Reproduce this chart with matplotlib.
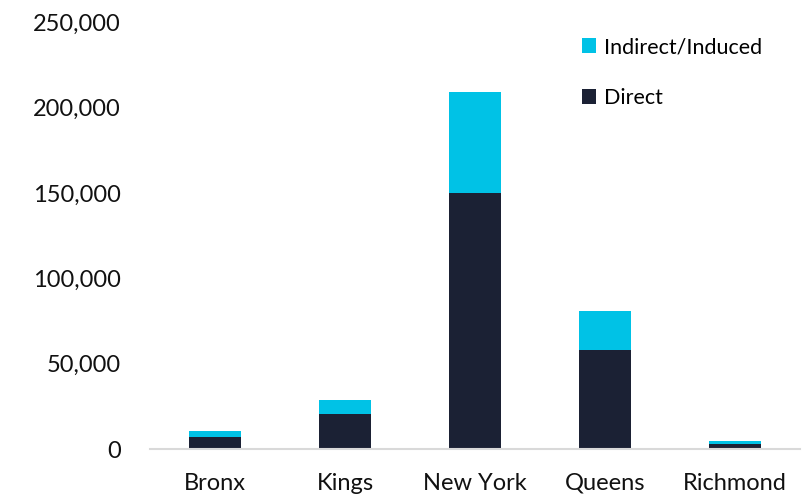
import numpy as np
import matplotlib.pyplot as plt
from matplotlib.ticker import FuncFormatter

plt.rcParams['font.family'] = ['Lato', 'DejaVu Sans']

boroughs = ['Bronx', 'Kings', 'New York', 'Queens', 'Richmond']
direct = [7400, 20500, 150100, 58100, 3300]
indirect = [3300, 8300, 59100, 22800, 1400]

c_direct = '#1b2134'
c_indirect = '#00c2e6'

fig = plt.figure(figsize=(8.03, 4.96), dpi=100)
ax = fig.add_axes([150/803, 1 - 449.3/496, 650/803, (449.3 - 22)/496])

x = np.arange(len(boroughs))
b1 = ax.bar(x, direct, width=0.4, color=c_direct, label='Direct')
b2 = ax.bar(x, indirect, width=0.4, bottom=direct, color=c_indirect, label='Indirect/Induced')

ax.set_xlim(-0.5, 4.5)
ax.set_ylim(0, 250000)
ax.set_yticks(np.arange(0, 250001, 50000))
ax.yaxis.set_major_formatter(FuncFormatter(lambda v, p: f'{int(v):,}'))
ax.set_xticks(x)
ax.set_xticklabels(boroughs)
ax.tick_params(axis='y', length=0, pad=21, labelsize=17, colors='#111111')
ax.tick_params(axis='x', length=0, pad=17, labelsize=17, colors='#111111')

for s in ['top', 'right', 'left']:
    ax.spines[s].set_visible(False)
ax.spines['bottom'].set_color('#d9d9d9')
ax.spines['bottom'].set_linewidth(1.5)

leg = fig.legend(handles=[b2, b1], labels=['Indirect/Induced', 'Direct'],
                 loc='upper left', bbox_to_anchor=(582/803, 1 - 37/496),
                 frameon=False, fontsize=15.5, handlelength=0.65, handleheight=0.65,
                 handletextpad=0.35, labelspacing=1.45, borderpad=0, borderaxespad=0)

fig.savefig('out.png', dpi=100)
